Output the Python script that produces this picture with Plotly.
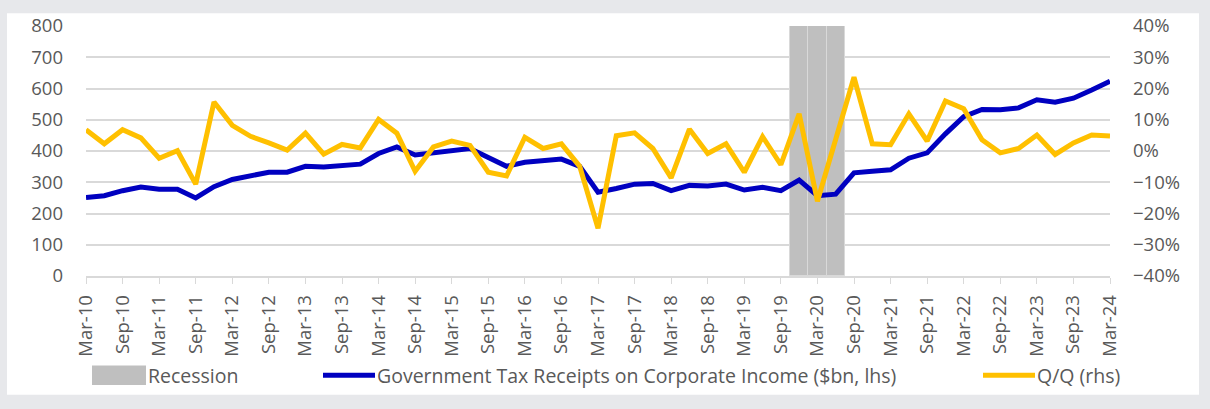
import plotly.graph_objects as go

# ---- data ----
quarters = []
for yr in range(10, 25):
    for m in ["Mar", "Jun", "Sep", "Dec"]:
        quarters.append(f"{m}-{yr:02d}")
quarters = quarters[:57]  # Mar-10 .. Mar-24

tax_receipts = [251, 257, 273, 285, 278, 278, 250, 286, 309, 322,
                332, 332, 351, 349, 354, 358, 392, 413, 387, 393,
                402, 408, 379, 351, 364, 368, 374, 351, 268, 280,
                294, 296, 273, 290, 288, 294, 275, 284, 273, 307,
                257, 262, 330, 335, 340, 377, 394, 455, 510, 533,
                532, 538, 564, 556, 569, 595, 623]

qoq_pct = [6.8, 2.3, 6.8, 4.2, -2.3, 0.1, -10.6, 15.7, 8.2, 4.7,
           2.6, 0.3, 5.7, -1.0, 2.1, 1.0, 10.1, 5.7, -6.5, 1.3,
           3.2, 1.8, -6.8, -8.0, 4.4, 0.8, 2.3, -4.9, -24.7, 4.9,
           5.8, 0.8, -8.6, 7.0, -0.8, 2.3, -6.8, 4.6, -4.4, 11.9,
           -16.1, 3.6, 23.6, 2.3, 2.0, 11.9, 3.2, 16.0, 13.5, 3.6,
           -0.6, 0.8, 5.1, -1.1, 2.6, 5.1, 4.8]

recession_quarters = ["Dec-19", "Mar-20", "Jun-20"]

x_tick_labels = quarters[::2]

# ---- styles ----
FONT = "Open Sans"
TXT = "#595959"
GRID = "#d9d9d9"
BLUE = "#0000c0"
GOLD = "#ffc000"
RECESS = "#bfbfbf"
LEG_SIZE = 19.5

# plot area in pixels
W, H = 1210, 409
L, R, T, B = 86, 100, 19, 133
PW, PH = W - L - R, H - T - B

def px(xpix):
    return (xpix - L) / PW

def py(ypix):
    return (H - B - ypix) / PH

rec_flags = [1 if q in recession_quarters else None for q in quarters]

fig = go.Figure()
fig.add_trace(go.Bar(x=quarters, y=rec_flags, yaxis="y", name="Recession",
                     marker=dict(color=RECESS, line=dict(color=GRID, width=1)),
                     width=1, showlegend=False, hoverinfo="skip"))
fig.add_trace(go.Scatter(x=quarters, y=tax_receipts, yaxis="y2", mode="lines",
                         name="Government Tax Receipts on Corporate Income ($bn, lhs)",
                         line=dict(color=BLUE, width=5), showlegend=False))
fig.add_trace(go.Scatter(x=quarters, y=[v / 100 for v in qoq_pct], yaxis="y3", mode="lines",
                         name="Q/Q (rhs)", line=dict(color=GOLD, width=5), showlegend=False))

shapes = [
    dict(type="rect", xref="paper", yref="paper", layer="below",
         x0=px(7), x1=px(1199), y0=py(398), y1=py(6),
         fillcolor="white", line=dict(width=0)),
    # legend symbols
    dict(type="rect", xref="paper", yref="paper", x0=px(92), x1=px(146), y0=py(388), y1=py(368),
         fillcolor=RECESS, line=dict(width=0)),
    dict(type="line", xref="paper", yref="paper", x0=px(323), x1=px(375), y0=py(378), y1=py(378),
         line=dict(color=BLUE, width=5)),
    dict(type="line", xref="paper", yref="paper", x0=px(983), x1=px(1035), y0=py(378), y1=py(378),
         line=dict(color=GOLD, width=5)),
]
annotations = [
    dict(text="Recession", x=px(146), y=py(378), xref="paper", yref="paper",
         xanchor="left", yanchor="middle", showarrow=False, font=dict(family=FONT, size=LEG_SIZE, color=TXT)),
    dict(text="Government Tax Receipts on Corporate Income ($bn, lhs)", x=px(375), y=py(378),
         xref="paper", yref="paper", xanchor="left", yanchor="middle", showarrow=False,
         font=dict(family=FONT, size=LEG_SIZE, color=TXT)),
    dict(text="Q/Q (rhs)", x=px(1035), y=py(378), xref="paper", yref="paper",
         xanchor="left", yanchor="middle", showarrow=False, font=dict(family=FONT, size=LEG_SIZE, color=TXT)),
]

fig.update_layout(
    width=W, height=H,
    margin=dict(l=L, r=R, t=T, b=B),
    paper_bgcolor="#e7e8eb", plot_bgcolor="white",
    font=dict(family=FONT, size=18, color=TXT),
    bargap=0,
    showlegend=False,
    shapes=shapes, annotations=annotations,
    xaxis=dict(type="category", categoryorder="array", categoryarray=quarters,
               range=[0, len(quarters) - 1],
               tickmode="array", tickvals=x_tick_labels, ticktext=x_tick_labels,
               tickangle=-90, ticks="outside", ticklen=6, tickcolor=GRID, tickwidth=1,
               showline=True, linecolor=GRID, linewidth=1.5, showgrid=False,
               ticklabelstandoff=4, tickfont=dict(size=18.5, color=TXT)),
    yaxis=dict(range=[0, 1], visible=False, showgrid=False, fixedrange=True),
    yaxis2=dict(overlaying="y", side="left", range=[0, 800], dtick=100,
                showgrid=True, gridcolor=GRID, gridwidth=1.5, zeroline=False,
                ticks="", ticklabelstandoff=22, tickfont=dict(size=18.5, color=TXT)),
    yaxis3=dict(overlaying="y", side="right", range=[-0.4, 0.4], dtick=0.1, tickformat=".0%",
                showgrid=False, zeroline=False, ticks="", ticklabelstandoff=22,
                tickfont=dict(size=18.5, color=TXT)),
)

fig.write_html("out.html")
